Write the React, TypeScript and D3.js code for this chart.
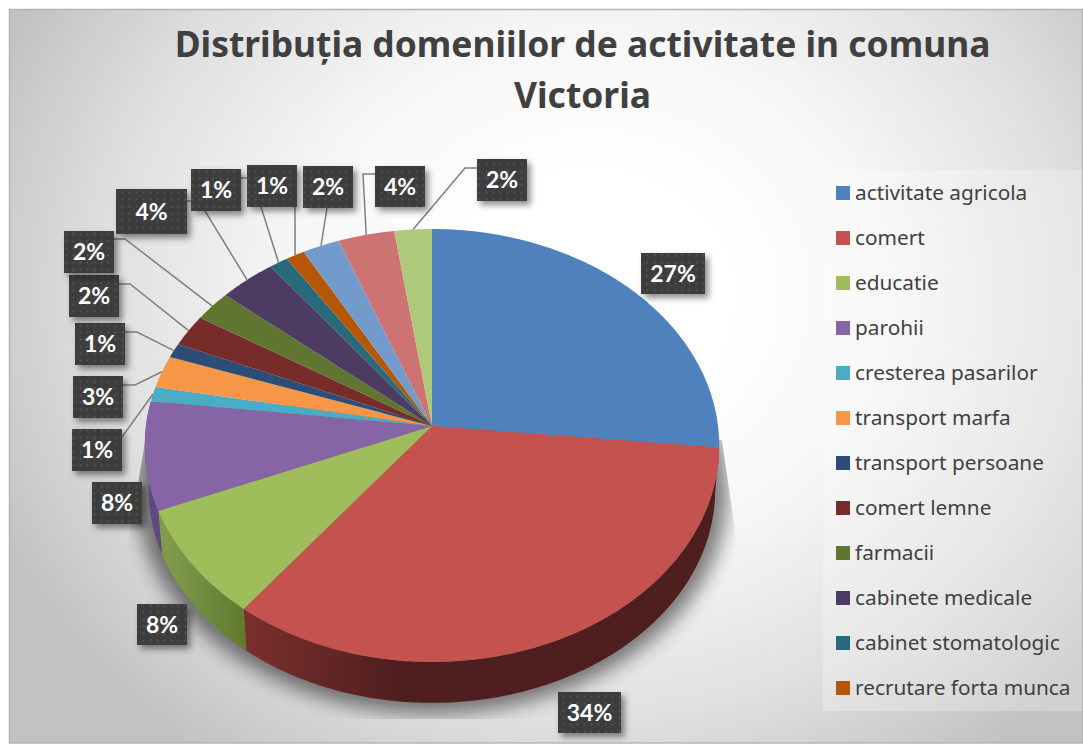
import React from "react";
import * as d3 from "d3";

const titleLines = ["Distribuția domeniilor de activitate in comuna", "Victoria"];
const categories = ["activitate agricola","comert","educatie","parohii","cresterea pasarilor","transport marfa","transport persoane","comert lemne","farmacii","cabinete medicale","cabinet stomatologic","recrutare forta munca","", "", ""];
const shares = [26.6,33.9,8.3,8.1,1.1,2.4,1.1,2.4,2.3,3.5,1.15,1.15,2.3,3.45,2.3];
const labels = ["27%","34%","8%","8%","1%","3%","1%","2%","2%","4%","1%","1%","2%","4%","2%"];
const colors = ["#4F81BD","#C4524F","#9FBD5A","#8565A6","#4BACC6","#F79646","#2C4D75","#772C2A","#5F7530","#4D3B62","#276A7C","#B65708","#729ACA","#CD7371","#AFC97A"];

// label box layout: [x, y, w, h, elbow points leading towards the slice]
const boxes: [number, number, number, number, [number, number][]][] = [
  [641,253,64,41,[]],
  [558,692,63,41,[]],
  [137,604,50,41,[]],
  [92,482,50,42,[]],
  [72,429,50,42,[[122,437]]],
  [73,376,50,42,[[123,385],[135,385]]],
  [75,323,50,42,[[125,332],[137,332]]],
  [69,275,50,42,[[119,284],[130,284]]],
  [64,231,50,42,[[114,239],[125,239]]],
  [116,189,71,45,[[187,201],[205,201],[205,211]]],
  [191,169,50,42,[[241,178],[261,178],[261,207]]],
  [247,165,50,42,[[295,207]]],
  [303,166,50,42,[[327,208]]],
  [375,166,50,41,[[375,174],[363,174]]],
  [477,159,50,42,[[477,168],[465,168]]],
];

const W = 1083, H = 744;
const persp = 0.09;
const topX = d3.scaleLinear().domain([-1, 1]).range([432 - 286, 432 + 286]);
const topY = d3.scaleLinear().domain([-1, 1]).range([426 - 214.7, 426 + 214.7]);
const lowX = d3.scaleLinear().domain([-1, 1]).range([432 - 282, 432 + 282]);
const lowY = d3.scaleLinear().domain([-1, 1]).range([471 - 211, 471 + 211]);

type S = d3.ScaleLinear<number, number>;
const project = (t: number, sx: S, sy: S): [number, number] => {
  const x = Math.sin(t), y = -Math.cos(t), w = 1 - persp * y;
  return [sx(x / w), sy(y / w)];
};
const arcPts = (a0: number, a1: number, sx: S, sy: S) => {
  const n = Math.max(2, Math.ceil(Math.abs(a1 - a0) / 0.01));
  return d3.range(n + 1).map((i) => project(a0 + ((a1 - a0) * i) / n, sx, sy));
};
const line = d3.line();
const arcs = d3.pie<number>().sort(null).value((d) => d)(shares);

const apex: [number, number] = [topX(0), topY(0)];
const sideFill = ["none", "url(#sideRed)", "url(#sideGreen)", "#5F4A80"];

export default function App() {
  return (
    <svg width={W} height={H} style={{ position: "fixed", left: 0, top: 0, background: "#fff" }}>
      <defs>
        <radialGradient id="bg" gradientUnits="userSpaceOnUse" cx="590" cy="295" r="650"
          gradientTransform="translate(590 295) scale(1 0.88) translate(-590 -295)">
          <stop offset="0.2" stopColor="#ffffff" />
          <stop offset="0.45" stopColor="#f7f7f7" />
          <stop offset="0.75" stopColor="#dfdfdf" />
          <stop offset="1" stopColor="#c2c2c2" />
        </radialGradient>
        <linearGradient id="sideRed" gradientUnits="userSpaceOnUse" x1="248" x2="400" y1="0" y2="0">
          <stop offset="0" stopColor="#7A2F2D" />
          <stop offset="1" stopColor="#4F1E1E" />
        </linearGradient>
        <linearGradient id="sideGreen" gradientUnits="userSpaceOnUse" x1="170" x2="248" y1="0" y2="0">
          <stop offset="0" stopColor="#7E9A4A" />
          <stop offset="1" stopColor="#5F7830" />
        </linearGradient>
        <pattern id="dots" width="7" height="7" patternUnits="userSpaceOnUse">
          <rect width="7" height="7" fill="#3D3D3D" />
          <circle cx="3.5" cy="3.5" r="1" fill="#565656" />
        </pattern>
        <filter id="boxShadow" x="-30%" y="-30%" width="170%" height="170%">
          <feDropShadow dx="3.5" dy="4" stdDeviation="3" floodColor="#000" floodOpacity="0.45" />
        </filter>
        <filter id="blur" x="-20%" y="-20%" width="140%" height="140%">
          <feGaussianBlur stdDeviation="9" />
        </filter>
        <clipPath id="shadowClip">
          <path d="M153 395L125 560L125 719L745 719L740 565L722 440Z" />
        </clipPath>
      </defs>

      <rect x={9.5} y={9.5} width={1073} height={733.5} fill="url(#bg)" stroke="#b5b5b5" strokeWidth={1.5} />

      <rect x={823} y={170} width={259} height={541} fill="#fff" opacity={0.25} />

      <g clipPath="url(#shadowClip)">
        <path d={line(arcPts(0, 2 * Math.PI, lowX, lowY))! + "Z"} fill="#000" opacity={0.5} filter="url(#blur)"
          transform="translate(432 471) scale(1.045) translate(-432 -471)" />
      </g>

      {arcs.slice(1, 4).map((a, i) => {
        const top = arcPts(a.startAngle, a.endAngle, topX, topY);
        const low = arcPts(a.endAngle, a.startAngle, lowX, lowY);
        return <path key={i} d={line([...top, ...low])! + "Z"} fill={sideFill[i + 1]} />;
      })}

      {arcs.map((a, i) => (
        <path key={i} d={line([apex, ...arcPts(a.startAngle, a.endAngle, topX, topY)])! + "Z"} fill={colors[i]} />
      ))}

      {arcs.map((a, i) => {
        const b = boxes[i];
        if (!b[4].length) return null;
        return (
          <path key={i} d={line([...b[4], project((a.startAngle + a.endAngle) / 2, topX, topY)])!}
            fill="none" stroke="#7f7f7f" strokeWidth={1.5} />
        );
      })}

      {boxes.map((b, i) => (
        <g key={i}>
          <rect x={b[0]} y={b[1]} width={b[2]} height={b[3]} fill="url(#dots)" filter="url(#boxShadow)" />
          <text x={b[0] + b[2] / 2} y={b[1] + b[3] / 2 + 8} textAnchor="middle" fontFamily="Lato" fontWeight={700}
            fontSize={23} fill="#fff">{labels[i]}</text>
        </g>
      ))}

      {titleLines.map((t, i) => (
        <text key={i} x={582.5} y={57 + i * 51} textAnchor="middle" fontFamily="'Noto Sans'" fontWeight={700}
          fontSize={35.4} fill="#404040">{t}</text>
      ))}

      {categories.filter(Boolean).map((c, i) => (
        <g key={c}>
          <rect x={836} y={186 + i * 45} width={14} height={14} fill={colors[i]} />
          <text x={855} y={200 + i * 45} fontFamily="'Noto Sans'" fontSize={20.8} fill="#404040">{c}</text>
        </g>
      ))}
    </svg>
  );
}
